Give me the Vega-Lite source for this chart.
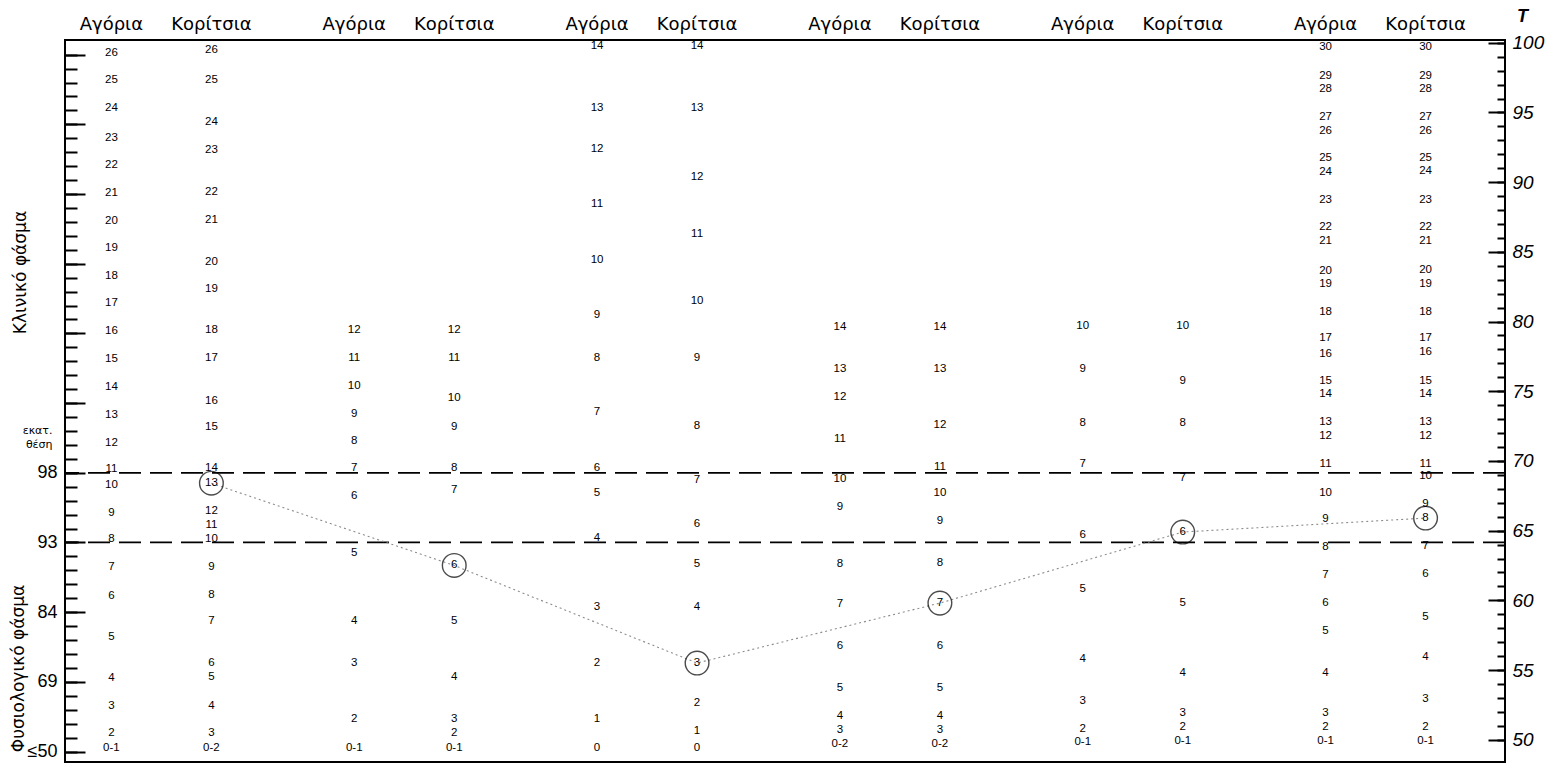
{
  "$schema": "https://vega.github.io/schema/vega-lite/v6.json",
  "width": 1440,
  "height": 722,
  "autosize": "none",
  "padding": {"left": 65, "top": 40, "right": 42, "bottom": 8},
  "background": "white",
  "config": {
    "view": {"stroke": "black", "strokeWidth": 2},
    "axis": {"domain": false, "grid": false, "tickColor": "black", "labelColor": "black", "titleColor": "black", "labelOverlap": false}
  },
  "datasets": {
    "cuts": [{"pct": "98", "t": 70}, {"pct": "93", "t": 65}],
    "heads": [
      {"s": 1, "g": "Αγόρια"}, {"s": 1, "g": "Κορίτσια"},
      {"s": 2, "g": "Αγόρια"}, {"s": 2, "g": "Κορίτσια"},
      {"s": 3, "g": "Αγόρια"}, {"s": 3, "g": "Κορίτσια"},
      {"s": 4, "g": "Αγόρια"}, {"s": 4, "g": "Κορίτσια"},
      {"s": 5, "g": "Αγόρια"}, {"s": 5, "g": "Κορίτσια"},
      {"s": 6, "g": "Αγόρια"}, {"s": 6, "g": "Κορίτσια"}
    ],
    "raw": [
      {"s":1,"g":"Αγόρια","v":"26","t":99.3},{"s":1,"g":"Αγόρια","v":"25","t":97.3},{"s":1,"g":"Αγόρια","v":"24","t":95.3},{"s":1,"g":"Αγόρια","v":"23","t":93.2},{"s":1,"g":"Αγόρια","v":"22","t":91.2},{"s":1,"g":"Αγόρια","v":"21","t":89.2},{"s":1,"g":"Αγόρια","v":"20","t":87.2},{"s":1,"g":"Αγόρια","v":"19","t":85.3},{"s":1,"g":"Αγόρια","v":"18","t":83.3},{"s":1,"g":"Αγόρια","v":"17","t":81.3},{"s":1,"g":"Αγόρια","v":"16","t":79.3},{"s":1,"g":"Αγόρια","v":"15","t":77.3},{"s":1,"g":"Αγόρια","v":"14","t":75.3},{"s":1,"g":"Αγόρια","v":"13","t":73.3},{"s":1,"g":"Αγόρια","v":"12","t":71.3},{"s":1,"g":"Αγόρια","v":"11","t":69.4},{"s":1,"g":"Αγόρια","v":"10","t":68.3},{"s":1,"g":"Αγόρια","v":"9","t":66.3},{"s":1,"g":"Αγόρια","v":"8","t":64.4},{"s":1,"g":"Αγόρια","v":"7","t":62.4},{"s":1,"g":"Αγόρια","v":"6","t":60.3},{"s":1,"g":"Αγόρια","v":"5","t":57.4},{"s":1,"g":"Αγόρια","v":"4","t":54.4},{"s":1,"g":"Αγόρια","v":"3","t":52.4},{"s":1,"g":"Αγόρια","v":"2","t":50.5},{"s":1,"g":"Αγόρια","v":"0-1","t":49.4},
      {"s":1,"g":"Κορίτσια","v":"26","t":99.5},{"s":1,"g":"Κορίτσια","v":"25","t":97.3},{"s":1,"g":"Κορίτσια","v":"24","t":94.3},{"s":1,"g":"Κορίτσια","v":"23","t":92.3},{"s":1,"g":"Κορίτσια","v":"22","t":89.3},{"s":1,"g":"Κορίτσια","v":"21","t":87.3},{"s":1,"g":"Κορίτσια","v":"20","t":84.3},{"s":1,"g":"Κορίτσια","v":"19","t":82.3},{"s":1,"g":"Κορίτσια","v":"18","t":79.4},{"s":1,"g":"Κορίτσια","v":"17","t":77.4},{"s":1,"g":"Κορίτσια","v":"16","t":74.3},{"s":1,"g":"Κορίτσια","v":"15","t":72.4},{"s":1,"g":"Κορίτσια","v":"14","t":69.5},{"s":1,"g":"Κορίτσια","v":"13","t":68.4,"c":true},{"s":1,"g":"Κορίτσια","v":"12","t":66.4},{"s":1,"g":"Κορίτσια","v":"11","t":65.4},{"s":1,"g":"Κορίτσια","v":"10","t":64.4},{"s":1,"g":"Κορίτσια","v":"9","t":62.4},{"s":1,"g":"Κορίτσια","v":"8","t":60.4},{"s":1,"g":"Κορίτσια","v":"7","t":58.5},{"s":1,"g":"Κορίτσια","v":"6","t":55.5},{"s":1,"g":"Κορίτσια","v":"5","t":54.5},{"s":1,"g":"Κορίτσια","v":"4","t":52.4},{"s":1,"g":"Κορίτσια","v":"3","t":50.5},{"s":1,"g":"Κορίτσια","v":"0-2","t":49.4},
      {"s":2,"g":"Αγόρια","v":"12","t":79.4},{"s":2,"g":"Αγόρια","v":"11","t":77.4},{"s":2,"g":"Αγόρια","v":"10","t":75.4},{"s":2,"g":"Αγόρια","v":"9","t":73.4},{"s":2,"g":"Αγόρια","v":"8","t":71.4},{"s":2,"g":"Αγόρια","v":"7","t":69.5},{"s":2,"g":"Αγόρια","v":"6","t":67.5},{"s":2,"g":"Αγόρια","v":"5","t":63.4},{"s":2,"g":"Αγόρια","v":"4","t":58.5},{"s":2,"g":"Αγόρια","v":"3","t":55.5},{"s":2,"g":"Αγόρια","v":"2","t":51.5},{"s":2,"g":"Αγόρια","v":"0-1","t":49.4},
      {"s":2,"g":"Κορίτσια","v":"12","t":79.4},{"s":2,"g":"Κορίτσια","v":"11","t":77.4},{"s":2,"g":"Κορίτσια","v":"10","t":74.5},{"s":2,"g":"Κορίτσια","v":"9","t":72.4},{"s":2,"g":"Κορίτσια","v":"8","t":69.5},{"s":2,"g":"Κορίτσια","v":"7","t":67.9},{"s":2,"g":"Κορίτσια","v":"6","t":62.5,"c":true},{"s":2,"g":"Κορίτσια","v":"5","t":58.5},{"s":2,"g":"Κορίτσια","v":"4","t":54.5},{"s":2,"g":"Κορίτσια","v":"3","t":51.5},{"s":2,"g":"Κορίτσια","v":"2","t":50.5},{"s":2,"g":"Κορίτσια","v":"0-1","t":49.4},
      {"s":3,"g":"Αγόρια","v":"14","t":99.8},{"s":3,"g":"Αγόρια","v":"13","t":95.3},{"s":3,"g":"Αγόρια","v":"12","t":92.4},{"s":3,"g":"Αγόρια","v":"11","t":88.4},{"s":3,"g":"Αγόρια","v":"10","t":84.4},{"s":3,"g":"Αγόρια","v":"9","t":80.5},{"s":3,"g":"Αγόρια","v":"8","t":77.4},{"s":3,"g":"Αγόρια","v":"7","t":73.5},{"s":3,"g":"Αγόρια","v":"6","t":69.5},{"s":3,"g":"Αγόρια","v":"5","t":67.7},{"s":3,"g":"Αγόρια","v":"4","t":64.5},{"s":3,"g":"Αγόρια","v":"3","t":59.5},{"s":3,"g":"Αγόρια","v":"2","t":55.5},{"s":3,"g":"Αγόρια","v":"1","t":51.5},{"s":3,"g":"Αγόρια","v":"0","t":49.4},
      {"s":3,"g":"Κορίτσια","v":"14","t":99.8},{"s":3,"g":"Κορίτσια","v":"13","t":95.3},{"s":3,"g":"Κορίτσια","v":"12","t":90.4},{"s":3,"g":"Κορίτσια","v":"11","t":86.3},{"s":3,"g":"Κορίτσια","v":"10","t":81.5},{"s":3,"g":"Κορίτσια","v":"9","t":77.4},{"s":3,"g":"Κορίτσια","v":"8","t":72.5},{"s":3,"g":"Κορίτσια","v":"7","t":68.6},{"s":3,"g":"Κορίτσια","v":"6","t":65.5},{"s":3,"g":"Κορίτσια","v":"5","t":62.6},{"s":3,"g":"Κορίτσια","v":"4","t":59.5},{"s":3,"g":"Κορίτσια","v":"3","t":55.5,"c":true},{"s":3,"g":"Κορίτσια","v":"2","t":52.6},{"s":3,"g":"Κορίτσια","v":"1","t":50.6},{"s":3,"g":"Κορίτσια","v":"0","t":49.4},
      {"s":4,"g":"Αγόρια","v":"14","t":79.6},{"s":4,"g":"Αγόρια","v":"13","t":76.6},{"s":4,"g":"Αγόρια","v":"12","t":74.6},{"s":4,"g":"Αγόρια","v":"11","t":71.6},{"s":4,"g":"Αγόρια","v":"10","t":68.7},{"s":4,"g":"Αγόρια","v":"9","t":66.7},{"s":4,"g":"Αγόρια","v":"8","t":62.6},{"s":4,"g":"Αγόρια","v":"7","t":59.7},{"s":4,"g":"Αγόρια","v":"6","t":56.7},{"s":4,"g":"Αγόρια","v":"5","t":53.7},{"s":4,"g":"Αγόρια","v":"4","t":51.7},{"s":4,"g":"Αγόρια","v":"3","t":50.7},{"s":4,"g":"Αγόρια","v":"0-2","t":49.7},
      {"s":4,"g":"Κορίτσια","v":"14","t":79.6},{"s":4,"g":"Κορίτσια","v":"13","t":76.6},{"s":4,"g":"Κορίτσια","v":"12","t":72.6},{"s":4,"g":"Κορίτσια","v":"11","t":69.6},{"s":4,"g":"Κορίτσια","v":"10","t":67.7},{"s":4,"g":"Κορίτσια","v":"9","t":65.7},{"s":4,"g":"Κορίτσια","v":"8","t":62.7},{"s":4,"g":"Κορίτσια","v":"7","t":59.8,"c":true},{"s":4,"g":"Κορίτσια","v":"6","t":56.7},{"s":4,"g":"Κορίτσια","v":"5","t":53.7},{"s":4,"g":"Κορίτσια","v":"4","t":51.7},{"s":4,"g":"Κορίτσια","v":"3","t":50.7},{"s":4,"g":"Κορίτσια","v":"0-2","t":49.7},
      {"s":5,"g":"Αγόρια","v":"10","t":79.7},{"s":5,"g":"Αγόρια","v":"9","t":76.6},{"s":5,"g":"Αγόρια","v":"8","t":72.7},{"s":5,"g":"Αγόρια","v":"7","t":69.8},{"s":5,"g":"Αγόρια","v":"6","t":64.7},{"s":5,"g":"Αγόρια","v":"5","t":60.8},{"s":5,"g":"Αγόρια","v":"4","t":55.8},{"s":5,"g":"Αγόρια","v":"3","t":52.8},{"s":5,"g":"Αγόρια","v":"2","t":50.8},{"s":5,"g":"Αγόρια","v":"0-1","t":49.8},
      {"s":5,"g":"Κορίτσια","v":"10","t":79.7},{"s":5,"g":"Κορίτσια","v":"9","t":75.7},{"s":5,"g":"Κορίτσια","v":"8","t":72.7},{"s":5,"g":"Κορίτσια","v":"7","t":68.8},{"s":5,"g":"Κορίτσια","v":"6","t":64.9,"c":true},{"s":5,"g":"Κορίτσια","v":"5","t":59.8},{"s":5,"g":"Κορίτσια","v":"4","t":54.8},{"s":5,"g":"Κορίτσια","v":"3","t":51.9},{"s":5,"g":"Κορίτσια","v":"2","t":50.9},{"s":5,"g":"Κορίτσια","v":"0-1","t":49.9},
      {"s":6,"g":"Αγόρια","v":"30","t":99.7},{"s":6,"g":"Αγόρια","v":"29","t":97.6},{"s":6,"g":"Αγόρια","v":"28","t":96.7},{"s":6,"g":"Αγόρια","v":"27","t":94.7},{"s":6,"g":"Αγόρια","v":"26","t":93.7},{"s":6,"g":"Αγόρια","v":"25","t":91.7},{"s":6,"g":"Αγόρια","v":"24","t":90.7},{"s":6,"g":"Αγόρια","v":"23","t":88.7},{"s":6,"g":"Αγόρια","v":"22","t":86.8},{"s":6,"g":"Αγόρια","v":"21","t":85.8},{"s":6,"g":"Αγόρια","v":"20","t":83.6},{"s":6,"g":"Αγόρια","v":"19","t":82.7},{"s":6,"g":"Αγόρια","v":"18","t":80.7},{"s":6,"g":"Αγόρια","v":"17","t":78.8},{"s":6,"g":"Αγόρια","v":"16","t":77.7},{"s":6,"g":"Αγόρια","v":"15","t":75.7},{"s":6,"g":"Αγόρια","v":"14","t":74.8},{"s":6,"g":"Αγόρια","v":"13","t":72.8},{"s":6,"g":"Αγόρια","v":"12","t":71.8},{"s":6,"g":"Αγόρια","v":"11","t":69.8},{"s":6,"g":"Αγόρια","v":"10","t":67.7},{"s":6,"g":"Αγόρια","v":"9","t":65.8},{"s":6,"g":"Αγόρια","v":"8","t":63.8},{"s":6,"g":"Αγόρια","v":"7","t":61.8},{"s":6,"g":"Αγόρια","v":"6","t":59.8},{"s":6,"g":"Αγόρια","v":"5","t":57.8},{"s":6,"g":"Αγόρια","v":"4","t":54.8},{"s":6,"g":"Αγόρια","v":"3","t":51.9},{"s":6,"g":"Αγόρια","v":"2","t":50.9},{"s":6,"g":"Αγόρια","v":"0-1","t":49.9},
      {"s":6,"g":"Κορίτσια","v":"30","t":99.7},{"s":6,"g":"Κορίτσια","v":"29","t":97.6},{"s":6,"g":"Κορίτσια","v":"28","t":96.7},{"s":6,"g":"Κορίτσια","v":"27","t":94.7},{"s":6,"g":"Κορίτσια","v":"26","t":93.7},{"s":6,"g":"Κορίτσια","v":"25","t":91.7},{"s":6,"g":"Κορίτσια","v":"24","t":90.8},{"s":6,"g":"Κορίτσια","v":"23","t":88.7},{"s":6,"g":"Κορίτσια","v":"22","t":86.8},{"s":6,"g":"Κορίτσια","v":"21","t":85.8},{"s":6,"g":"Κορίτσια","v":"20","t":83.7},{"s":6,"g":"Κορίτσια","v":"19","t":82.7},{"s":6,"g":"Κορίτσια","v":"18","t":80.7},{"s":6,"g":"Κορίτσια","v":"17","t":78.8},{"s":6,"g":"Κορίτσια","v":"16","t":77.8},{"s":6,"g":"Κορίτσια","v":"15","t":75.7},{"s":6,"g":"Κορίτσια","v":"14","t":74.8},{"s":6,"g":"Κορίτσια","v":"13","t":72.8},{"s":6,"g":"Κορίτσια","v":"12","t":71.8},{"s":6,"g":"Κορίτσια","v":"11","t":69.8},{"s":6,"g":"Κορίτσια","v":"10","t":68.9},{"s":6,"g":"Κορίτσια","v":"9","t":66.9},{"s":6,"g":"Κορίτσια","v":"8","t":65.9,"c":true},{"s":6,"g":"Κορίτσια","v":"7","t":63.9},{"s":6,"g":"Κορίτσια","v":"6","t":61.9},{"s":6,"g":"Κορίτσια","v":"5","t":58.8},{"s":6,"g":"Κορίτσια","v":"4","t":55.9},{"s":6,"g":"Κορίτσια","v":"3","t":52.9},{"s":6,"g":"Κορίτσια","v":"2","t":50.9},{"s":6,"g":"Κορίτσια","v":"0-1","t":49.9}
    ]
  },
  "layer": [
    {
      "data": {"name": "cuts"},
      "transform": [{"filter": "datum.pct == '98'"}],
      "mark": {"type": "rule", "color": "black", "strokeWidth": 1.8, "strokeDash": [22, 9]},
      "encoding": {
        "y": {
          "field": "t", "type": "quantitative",
          "scale": {"domain": [49.25, 101.05], "nice": false, "zero": false},
          "axis": {
            "orient": "left",
            "values": [50, 55, 60, 65, 70, 75, 80, 85, 90, 95, 100],
            "tickSize": -20, "tickWidth": 2, "labelPadding": 28,
            "labelExpr": "datum.value == 70 ? '98' : datum.value == 65 ? '93' : datum.value == 60 ? '84' : datum.value == 55 ? '69' : datum.value == 50 ? '≤50' : ''",
            "labelFont": "Liberation Sans", "labelFontSize": 18, "labelBaseline": "middle",
            "title": "Κλινικό φάσμα", "titleFont": "DejaVu Sans", "titleFontSize": 17, "titleFontWeight": "normal",
            "titleAngle": -90, "titleX": -45, "titleY": 232, "titleAlign": "center", "titleBaseline": "middle"
          }
        }
      }
    },
    {
      "data": {"name": "cuts"},
      "transform": [{"filter": "datum.pct == '93'"}],
      "mark": {"type": "rule", "color": "black", "strokeWidth": 1.8, "strokeDash": [22, 9]},
      "encoding": {
        "y": {
          "field": "t", "type": "quantitative",
          "scale": {"domain": [49.25, 101.05], "nice": false, "zero": false},
          "axis": {
            "orient": "left",
            "values": [50,51,52,53,54,55,56,57,58,59,60,61,62,63,64,65,66,67,68,69,70,71,72,73,74,75,76,77,78,79,80,81,82,83,84,85,86,87,88,89,90,91,92,93,94,95,96,97,98,99,100],
            "tickSize": -12, "tickWidth": 2, "labelPadding": 25,
            "labelExpr": "datum.value == 73 ? 'εκατ.' : datum.value == 72 ? 'θέση' : ''",
            "labelFont": "DejaVu Sans", "labelFontSize": 11, "labelBaseline": "middle",
            "title": "Φυσιολογικό φάσμα", "titleFont": "DejaVu Sans", "titleFontSize": 17, "titleFontWeight": "normal",
            "titleAngle": -90, "titleX": -47, "titleY": 628, "titleAlign": "center", "titleBaseline": "middle"
          }
        }
      }
    },
    {
      "data": {"name": "raw"},
      "transform": [{"filter": "datum.c"}],
      "mark": {"type": "line", "color": "#8c8c8c", "strokeWidth": 1.1, "strokeDash": [2, 3]},
      "encoding": {
        "x": {"field": "s", "type": "ordinal", "scale": {"domain": [1, 2, 3, 4, 5, 6], "range": [-25, 1432], "paddingInner": 0, "paddingOuter": 0}, "axis": null},
        "xOffset": {"field": "g", "type": "nominal", "scale": {"domain": ["Αγόρια", "Κορίτσια"], "range": [71.4, 171.4], "padding": 0}},
        "y": {"field": "t", "type": "quantitative", "scale": {"domain": [48.4, 100.2], "nice": false, "zero": false}, "axis": null},
        "order": {"field": "s"}
      }
    },
    {
      "data": {"name": "raw"},
      "transform": [{"filter": "datum.c"}],
      "mark": {"type": "point", "shape": "circle", "size": 560, "filled": false, "stroke": "black", "strokeWidth": 1.4},
      "encoding": {
        "x": {"field": "s", "type": "ordinal", "scale": {"domain": [1, 2, 3, 4, 5, 6], "range": [-25, 1432], "paddingInner": 0, "paddingOuter": 0}, "axis": null},
        "xOffset": {"field": "g", "type": "nominal", "scale": {"domain": ["Αγόρια", "Κορίτσια"], "range": [71.4, 171.4], "padding": 0}},
        "y": {"field": "t", "type": "quantitative", "scale": {"domain": [48.4, 100.2], "nice": false, "zero": false}, "axis": null}
      }
    },
    {
      "data": {"name": "raw"},
      "mark": {"type": "text", "font": "Liberation Sans", "fontSize": 11.5, "align": "center", "baseline": "middle", "color": "black"},
      "encoding": {
        "x": {"field": "s", "type": "ordinal", "scale": {"domain": [1, 2, 3, 4, 5, 6], "range": [-25, 1432], "paddingInner": 0, "paddingOuter": 0}, "axis": null},
        "xOffset": {"field": "g", "type": "nominal", "scale": {"domain": ["Αγόρια", "Κορίτσια"], "range": [71.4, 171.4], "padding": 0}},
        "y": {
          "field": "t", "type": "quantitative",
          "scale": {"domain": [48.4, 100.2], "nice": false, "zero": false},
          "axis": {
            "orient": "right",
            "values": [50, 55, 60, 65, 70, 75, 80, 85, 90, 95, 100],
            "tickSize": -17, "tickWidth": 2, "labelPadding": 24,
            "labelFont": "Liberation Sans", "labelFontSize": 19, "labelFontStyle": "italic", "labelBaseline": "middle",
            "title": "T", "titleFont": "Liberation Sans", "titleFontSize": 18, "titleFontStyle": "italic", "titleFontWeight": "bold",
            "titleAngle": 0, "titleX": 17, "titleY": -24, "titleAlign": "center", "titleBaseline": "middle"
          }
        },
        "text": {"field": "v"}
      }
    },
    {
      "data": {"name": "heads"},
      "mark": {"type": "text", "font": "DejaVu Sans", "fontSize": 18, "align": "center", "baseline": "middle", "color": "black"},
      "encoding": {
        "x": {"field": "s", "type": "ordinal", "scale": {"domain": [1, 2, 3, 4, 5, 6], "range": [-25, 1432], "paddingInner": 0, "paddingOuter": 0}, "axis": null},
        "xOffset": {"field": "g", "type": "nominal", "scale": {"domain": ["Αγόρια", "Κορίτσια"], "range": [71.4, 171.4], "padding": 0}},
        "y": {
          "datum": 101.3, "type": "quantitative",
          "scale": {"domain": [48.4, 100.2], "nice": false, "zero": false},
          "axis": {
            "orient": "right",
            "values": [50,51,52,53,54,55,56,57,58,59,60,61,62,63,64,65,66,67,68,69,70,71,72,73,74,75,76,77,78,79,80,81,82,83,84,85,86,87,88,89,90,91,92,93,94,95,96,97,98,99,100],
            "tickSize": -8, "tickWidth": 2, "labels": false, "title": null
          }
        },
        "text": {"field": "g"}
      }
    }
  ],
  "resolve": {"scale": {"y": "independent"}, "axis": {"y": "independent"}}
}
